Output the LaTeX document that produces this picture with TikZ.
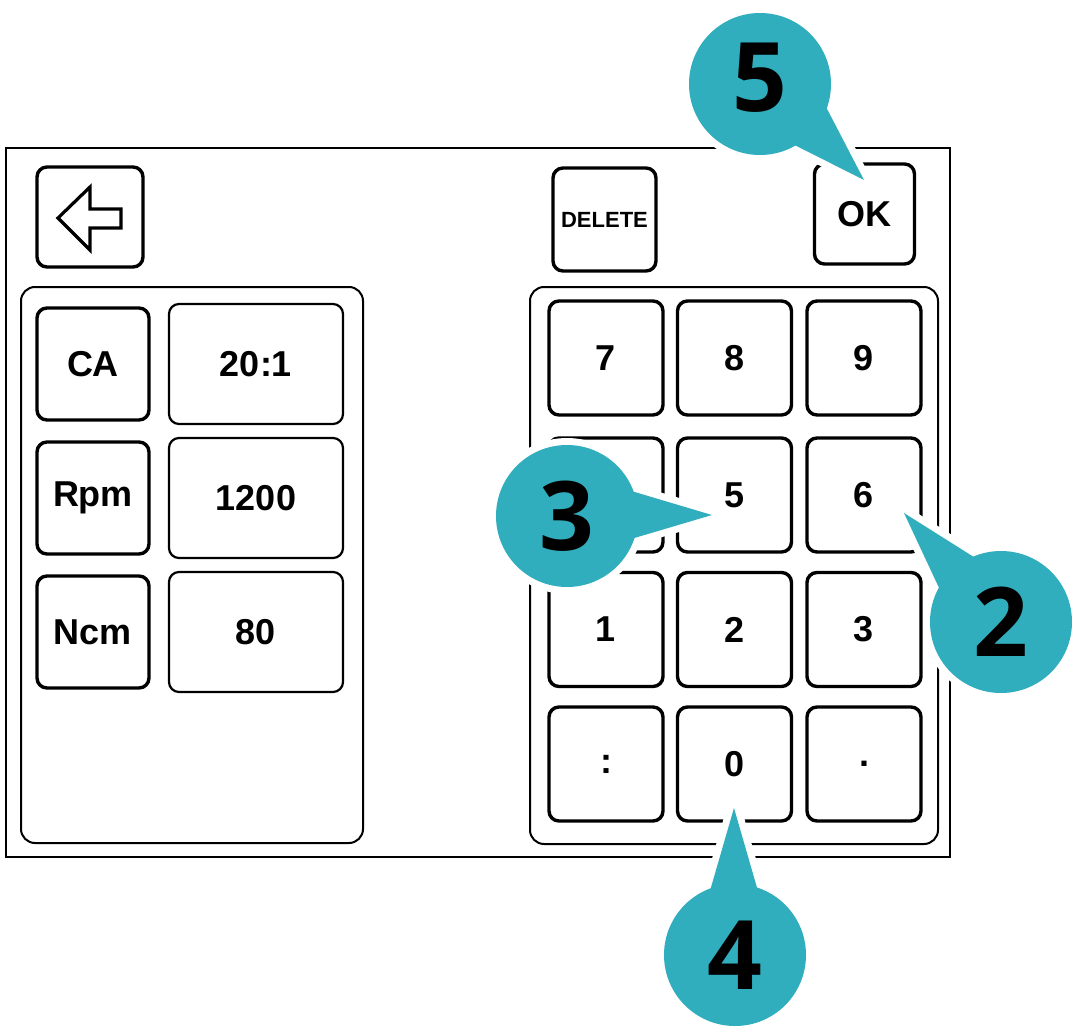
\documentclass[tikz,border=0pt]{standalone}
\usepackage{fontspec}
\setmainfont{Liberation Sans}
\newfontfamily\calloutfont{Open Sans}
\usetikzlibrary{positioning}
\definecolor{calloutteal}{RGB}{49,174,189}
\tikzset{
  keybtn/.style={draw, line width=1.7pt, rounded corners=5pt, inner sep=0pt,
    minimum width=57pt, minimum height=57pt, font=\bfseries\fontsize{18}{18}\selectfont},
  tagbtn/.style={keybtn, minimum width=56pt, minimum height=56pt},
  valbox/.style={draw, line width=1.1pt, rounded corners=5pt, inner sep=0pt,
    minimum width=87pt, minimum height=60pt, font=\bfseries\fontsize{18}{18}\selectfont},
  panel/.style={draw, line width=1pt, rounded corners=7pt},
  halo/.style={draw=white, line width=7pt, line join=round},
  num/.style={font=\calloutfont\bfseries\fontsize{48}{48}\selectfont, inner sep=0pt}
}
\begin{document}
\begin{tikzpicture}[x=0.5pt,y=-0.5pt]
\useasboundingbox (0,0) rectangle (1073,1028);
% screen
\draw[line width=1pt] (6,148) rectangle (950,857);
\node[keybtn, minimum width=53pt, minimum height=50pt] (back) at (90,217) {};
\draw[line width=1.6pt] (58,218) -- (90,187) -- (90,209) -- (121,209) -- (121,228) -- (90,228) -- (90,250) -- cycle;
\node[keybtn, minimum width=51.5pt, minimum height=51.5pt, font=\bfseries\fontsize{11}{11}\selectfont] (del) at (604.5,219.5) {DELETE};
\node[keybtn, minimum width=50pt, minimum height=50pt] (ok) at (864.5,214) {OK};
\draw[panel] (21,287) rectangle (363,843);
\draw[panel] (530,287) rectangle (938,844);
% settings
\foreach \lab/\val/\y/\n in {CA/20:1/364/1, Rpm/1200/498/2, Ncm/80/632/3}{
  \node[tagbtn] (tag\n) at (93,\y) {\lab};
  \node[valbox] (val\n) at (256,\y) {\val};
}
% keypad
\foreach \lab/\x/\y/\n in {7/606/358/1, 8/734.5/358/2, 9/864/358/3,
    4/606/495/4, 5/734.5/495/5, 6/864/495/6,
    1/606/629.5/7, 2/734.5/629.5/8, 3/864/629.5/9,
    :/606/764/10, 0/734.5/764/11, ./864/764/12}{
  \node[keybtn] (key\n) at (\x,\y) {\lab};
}
% callouts
\foreach \n/\cx/\cy/\tx/\ty/\a/\b/\dy in {5/760/84/864/180/-20/-60/-6, 3/567/516/712/515/20/-18/0,
    2/1001/622/904/513/113/151/0, 4/735/955/734/808/72/110/0}{
  \draw[halo] (\cx,\cy) circle[radius=35.5pt]
    ([shift={(\a:35.5pt)}]\cx,\cy) -- (\tx,\ty) -- ([shift={(\b:35.5pt)}]\cx,\cy);
  \fill[calloutteal] (\cx,\cy) circle[radius=35.5pt];
  \fill[calloutteal] (\cx,\cy) -- ([shift={(\a:35.5pt)}]\cx,\cy) -- (\tx,\ty) -- ([shift={(\b:35.5pt)}]\cx,\cy) -- cycle;
  \node[num] (num\n) at (\cx,\cy+\dy) {\n};
}
\end{tikzpicture}
\end{document}
